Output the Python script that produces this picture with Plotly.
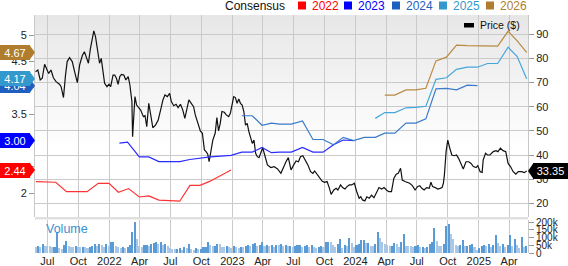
import plotly.graph_objects as go
import pandas as pd

# ---------------- data ----------------
price_dates = [
 "2021-05-27","2021-06-03","2021-06-10","2021-06-16","2021-06-23","2021-06-30","2021-07-05","2021-07-12",
 "2021-07-19","2021-07-27","2021-08-06","2021-08-11","2021-08-18","2021-08-24","2021-08-29","2021-09-05",
 "2021-09-13","2021-09-20","2021-09-28","2021-10-05","2021-10-13","2021-10-19","2021-10-24","2021-10-31",
 "2021-11-06","2021-11-11","2021-11-16","2021-11-21","2021-11-28","2021-12-03","2021-12-08","2021-12-13",
 "2021-12-18","2021-12-25","2021-12-31","2022-01-05","2022-01-12","2022-01-17","2022-01-22","2022-01-27",
 "2022-02-01","2022-02-06","2022-02-13","2022-02-19","2022-02-26","2022-03-03","2022-03-09","2022-03-11",
 "2022-03-18","2022-03-23","2022-03-28","2022-04-04","2022-04-12","2022-04-17","2022-04-22","2022-04-28",
 "2022-05-03","2022-05-10","2022-05-18","2022-05-26","2022-06-02","2022-06-09","2022-06-15","2022-06-22",
 "2022-06-29","2022-07-04","2022-07-11","2022-07-18","2022-07-24","2022-07-31","2022-08-07","2022-08-13",
 "2022-08-20","2022-08-25","2022-09-01","2022-09-08","2022-09-13","2022-09-21","2022-09-28","2022-10-04",
 "2022-10-10","2022-10-15","2022-10-20","2022-10-24","2022-10-29","2022-11-04","2022-11-11","2022-11-16",
 "2022-11-21","2022-11-26","2022-12-01","2022-12-08","2022-12-14","2022-12-21","2022-12-26","2022-12-31",
 "2023-01-05","2023-01-10","2023-01-15","2023-01-20","2023-01-25","2023-01-30","2023-02-04","2023-02-09",
 "2023-02-14","2023-02-19","2023-02-24","2023-03-01","2023-03-06","2023-03-11","2023-03-16","2023-03-21",
 "2023-03-26","2023-04-01","2023-04-15","2023-04-25","2023-05-05","2023-05-15","2023-05-25","2023-06-02",
 "2023-06-09","2023-06-16","2023-06-24","2023-07-02","2023-07-09","2023-07-16","2023-07-22","2023-07-29",
 "2023-08-05","2023-08-13","2023-08-21","2023-08-28","2023-09-02","2023-09-10","2023-09-17","2023-09-24",
 "2023-10-01","2023-10-09","2023-10-16","2023-10-21","2023-10-29","2023-11-05","2023-11-10","2023-11-18",
 "2023-11-24","2023-12-01","2023-12-07","2023-12-14","2023-12-21","2023-12-29","2024-01-05","2024-01-12",
 "2024-01-17","2024-01-22","2024-01-29","2024-02-04","2024-02-11","2024-02-18","2024-02-25","2024-03-03",
 "2024-03-11","2024-03-19","2024-03-26","2024-04-02","2024-04-09","2024-04-17","2024-04-24","2024-05-01",
 "2024-05-07","2024-05-14","2024-05-19","2024-05-27","2024-06-03","2024-06-10","2024-06-18","2024-06-26",
 "2024-07-03","2024-07-10","2024-07-16","2024-07-23","2024-07-30","2024-08-07","2024-08-12","2024-08-17",
 "2024-08-25","2024-09-01","2024-09-08","2024-09-14","2024-09-18","2024-09-21","2024-09-26","2024-10-01",
 "2024-10-07","2024-10-13","2024-10-20","2024-10-27","2024-11-02","2024-11-09","2024-11-16","2024-11-24",
 "2024-12-02","2024-12-09","2024-12-16","2024-12-24","2024-12-29","2025-01-05","2025-01-11","2025-01-14",
 "2025-01-21","2025-01-27","2025-02-03","2025-02-13","2025-02-21","2025-02-27","2025-03-06","2025-03-14",
 "2025-03-22","2025-03-29","2025-04-05","2025-04-13","2025-04-21","2025-04-28","2025-05-08","2025-05-16",
 "2025-05-23"]
price_vals = [
 74.5,75.2,71.1,71.8,77.6,75.6,73.8,75.2,
 72.0,70.4,69.3,68.3,63.8,73.1,78.7,80.3,
 78.7,74.5,70.0,77.3,81.2,82.8,80.7,78.0,
 84.2,88.3,91.4,89.0,82.8,78.0,80.0,74.5,
 69.7,68.3,69.3,68.3,73.1,73.1,71.8,69.3,
 72.5,73.4,73.1,71.1,72.5,69.0,62.1,47.6,
 64.2,60.7,59.6,58.6,55.9,56.3,51.7,61.4,
 57.3,51.3,52.4,54.5,58.6,62.8,64.9,64.2,
 65.5,62.1,60.4,61.0,59.6,61.0,58.6,55.2,
 59.6,62.8,61.4,60.0,56.6,53.1,50.0,49.0,
 42.1,41.4,40.3,37.2,42.1,46.2,49.0,55.5,
 50.0,53.1,58.0,57.7,56.6,55.9,57.3,61.4,
 64.2,63.8,61.4,63.2,61.4,60.7,58.0,52.4,
 53.1,49.7,46.9,44.8,46.2,40.7,39.3,38.9,
 40.7,43.0,35.9,34.8,35.2,34.2,32.4,35.2,
 37.2,38.9,33.8,35.9,37.5,37.2,39.3,39.7,
 37.9,35.9,33.1,32.4,33.4,31.7,30.6,29.2,
 28.7,29.0,26.2,23.7,25.5,26.2,25.5,27.6,
 26.5,25.9,26.9,27.6,27.6,28.3,24.8,22.1,
 22.7,21.4,21.0,22.7,22.1,23.4,22.3,24.1,
 26.5,25.9,26.5,25.5,24.8,24.8,30.3,32.0,
 32.4,34.5,29.6,29.0,28.7,28.3,27.3,25.5,
 26.9,27.3,26.2,25.5,26.5,26.2,28.7,26.9,
 26.5,25.9,26.2,26.5,28.3,31.7,41.4,46.2,
 42.8,40.0,39.7,40.0,38.6,36.1,34.2,37.2,
 37.2,36.5,35.2,34.8,35.6,33.1,32.8,37.9,
 40.7,40.0,40.0,41.4,41.8,41.4,42.8,41.8,
 41.4,36.5,35.2,33.1,32.1,33.1,33.1,32.7,
 33.35]

eps22_dates = ["2021-05-28","2021-07-26","2021-08-27","2021-10-27","2021-11-29","2021-12-31","2022-01-28",
               "2022-02-27","2022-03-31","2022-04-28","2022-05-28","2022-07-29","2022-08-28","2022-09-27",
               "2022-10-27","2022-12-28"]
eps22_vals = [2.22,2.21,2.03,2.03,2.19,2.19,2.02,2.09,1.93,1.95,1.87,1.85,2.15,2.15,2.23,2.44]

eps23_dates = ["2022-01-31","2022-02-24","2022-03-31","2022-04-28","2022-05-28","2022-07-29","2022-08-28",
               "2022-10-27","2022-12-28","2023-01-29","2023-03-01","2023-03-30","2023-04-27","2023-05-21",
               "2023-06-25","2023-07-28","2023-08-28","2023-09-27","2023-10-28","2023-11-26","2023-12-27"]
eps23_vals = [2.95,2.97,2.69,2.69,2.60,2.60,2.64,2.69,2.72,2.78,2.78,2.87,2.77,2.78,2.78,2.87,2.78,2.78,
              2.92,3.01,3.00]

eps24_dates = ["2023-01-29","2023-03-01","2023-03-30","2023-04-27","2023-05-21","2023-06-25","2023-07-28",
               "2023-08-28","2023-09-27","2023-10-28","2023-11-26","2023-12-27","2024-01-27","2024-02-29",
               "2024-03-28","2024-04-27","2024-05-30","2024-06-28","2024-07-28","2024-08-27","2024-09-27",
               "2024-10-27","2024-11-28","2024-12-28"]
eps24_vals = [3.47,3.47,3.29,3.33,3.31,3.31,3.37,3.02,3.02,2.92,3.06,3.00,3.06,3.06,3.14,3.14,3.33,3.33,
              3.41,3.98,3.99,3.96,4.05,4.04]

eps25_dates = ["2024-02-29","2024-03-28","2024-04-27","2024-05-30","2024-06-28","2024-07-28","2024-08-27",
               "2024-09-27","2024-10-27","2024-11-28","2024-12-28","2025-01-27","2025-02-26","2025-03-29",
               "2025-04-25","2025-05-23"]
eps25_vals = [3.42,3.53,3.53,3.62,3.63,3.65,4.16,4.19,4.35,4.39,4.39,4.46,4.46,4.77,4.59,4.17]

eps26_dates = ["2024-03-28","2024-04-27","2024-05-30","2024-06-28","2024-07-28","2024-08-27","2024-09-27",
               "2024-10-27","2024-11-28","2024-12-28","2025-01-27","2025-02-26","2025-03-29","2025-04-25",
               "2025-05-23"]
eps26_vals = [3.86,3.86,3.96,3.96,3.99,4.51,4.58,4.81,4.80,4.80,4.79,4.79,5.07,4.89,4.67]

vol_start = "2021-05-28"
volume_k = [
 45,48,42,62,50,48,46,44,45,137,
 35,28,55,84,48,45,42,48,44,40,
 45,42,35,40,52,60,48,62,55,42,
 60,50,72,75,52,45,38,40,38,45,
 55,138,206,97,50,42,55,58,52,62,
 70,78,65,72,55,60,50,35,32,28,
 30,35,25,40,38,62,30,22,35,28,
 30,42,45,77,55,48,52,62,60,45,
 40,48,42,38,52,40,35,45,42,50,
 55,48,62,68,52,55,72,48,58,52,
 55,40,58,55,60,52,55,48,52,40,
 50,55,55,45,48,58,45,55,40,35,
 42,50,45,72,75,72,55,40,60,92,
 35,55,50,100,70,45,58,62,85,85,
 68,70,50,48,60,142,104,75,62,55,
 50,52,68,60,40,72,129,52,50,48,
 42,48,58,40,42,38,40,62,72,164,
 82,52,48,62,178,193,129,95,58,52,
 55,90,52,52,55,62,40,22,35,48,
 58,52,60,45,55,120,70,50,62,45,
 55,118,48,97,55,35,108,45,50]

x_tick_vals = ["2021-07-01","2021-10-01","2022-01-01","2022-04-01","2022-07-01","2022-10-01",
               "2023-01-01","2023-04-01","2023-07-01","2023-10-01","2024-01-01","2024-04-01",
               "2024-07-01","2024-10-01","2025-01-01","2025-04-01"]
x_tick_text = ["Jul","Oct","2022","Apr","Jul","Oct","2023","Apr","Jul","Oct","2024","Apr",
               "Jul","Oct","2025","Apr"]
price_ticks = [20, 30, 40, 50, 60, 70, 80, 90]
eps_ticks = [2, 2.5, 3, 3.5, 4, 4.5, 5]
# 2.5, 3 and 4 are fully covered by the consensus badges in the reference
eps_tick_text = ["2", "", "", "3.5", "", "4.5", "5"]
vol_ticks = [0, 50000, 100000, 150000, 200000]
vol_tick_text = ["0", "50k", "100k", "150k", "200k"]

series_names = ["2022", "2023", "2024", "2025", "2026"]

# ---------------- layout geometry ----------------
W, H = 568, 266
ML, MR, MT, MB = 35, 40, 15, 13
PW = W - ML - MR
PH = H - MT - MB
FONT = "Liberation Sans, Arial, sans-serif"


def fx(px):
    return (px - ML) / PW


def fy(py):
    return (H - MB - py) / PH


price_dom = [fy(217), 1]
vol_dom = [0, fy(219.5)]
P_RANGE = [14.32, 97.99]
E_RANGE = [1.551, 5.379]

badge_col = {"2022": "#ff0000", "2023": "#0000ff", "2024": "#1f5fbf", "2025": "#3399cc", "2026": "#b07d2e"}
line_col = {"2022": "#ff3333", "2023": "#2b2bff", "2024": "#3a7bcc", "2025": "#45a6dc", "2026": "#b98a42"}
eps_data = {
    "2022": (eps22_dates, eps22_vals),
    "2023": (eps23_dates, eps23_vals),
    "2024": (eps24_dates, eps24_vals),
    "2025": (eps25_dates, eps25_vals),
    "2026": (eps26_dates, eps26_vals),
}

fig = go.Figure()

# volume bars
vol_dates = pd.date_range(vol_start, periods=len(volume_k), freq="7D")
vol_vals = [v * 1000 for v in volume_k]
vol_colors = ["#5b9bd5" if (i > 0 and volume_k[i] >= volume_k[i - 1]) else "#a9c8e8"
              for i in range(len(volume_k))]
fig.add_trace(go.Bar(x=vol_dates, y=vol_vals, xaxis="x", yaxis="y3",
                     marker=dict(color=vol_colors, line=dict(width=0)),
                     width=4.6 * 86400000, showlegend=False, hoverinfo="skip"))

# consensus lines
for name in series_names:
    d, v = eps_data[name]
    fig.add_trace(go.Scatter(x=d, y=v, xaxis="x", yaxis="y2", mode="lines",
                             line=dict(color=line_col[name], width=1.2),
                             showlegend=False, hoverinfo="skip"))

# price line
fig.add_trace(go.Scatter(x=price_dates, y=price_vals, xaxis="x", yaxis="y", mode="lines",
                         line=dict(color="#111111", width=1.2), showlegend=False, hoverinfo="skip"))

shapes = []
# background gradient in price panel
n_strips = 26
top_py, bot_py = 15, 145
for k in range(n_strips):
    y0 = top_py + (bot_py - top_py) * k / n_strips
    y1 = top_py + (bot_py - top_py) * (k + 1) / n_strips
    c = int(231 + (255 - 231) * (k + 0.5) / n_strips)
    shapes.append(dict(type="rect", xref="paper", yref="paper", x0=0, x1=1,
                       y0=fy(y1), y1=fy(y0), fillcolor=f"rgb({c},{c},{c})",
                       line=dict(width=0), layer="below"))
# separator band between panels
shapes.append(dict(type="rect", xref="paper", yref="paper", x0=0, x1=1,
                   y0=fy(219.5), y1=fy(217), fillcolor="#e0e0e0", line=dict(width=0), layer="below"))

annotations = []
panel_px = PH * (price_dom[1] - price_dom[0])
# left badges (EPS)
h_eps = 7.5 / panel_px * (E_RANGE[1] - E_RANGE[0])
for name in series_names:
    d, v = eps_data[name]
    val = v[-1]
    shapes.append(dict(type="path", xref="paper", yref="y2",
                       path=f"M {fx(29.5)},{val - h_eps} L {fx(35)},{val} L {fx(29.5)},{val + h_eps} Z",
                       fillcolor=badge_col[name], line=dict(width=0)))
    annotations.append(dict(xref="paper", yref="y2", x=fx(0), y=val, xanchor="left", yanchor="middle",
                            text=f"{val:.2f}", showarrow=False, width=30, height=15, borderpad=0,
                            borderwidth=0, bgcolor=badge_col[name],
                            font=dict(family=FONT, size=11, color="white")))

# right badge (price)
last_p = price_vals[-1]
h_p = 8 / panel_px * (P_RANGE[1] - P_RANGE[0])
shapes.append(dict(type="path", xref="paper", yref="y",
                   path=f"M {fx(533.5)},{last_p - h_p} L {fx(528)},{last_p} L {fx(533.5)},{last_p + h_p} Z",
                   fillcolor="#000000", line=dict(width=0)))
annotations.append(dict(xref="paper", yref="y", x=fx(533), y=last_p, xanchor="left", yanchor="middle",
                        text=f"{last_p:.2f}", showarrow=False, width=35, height=16, borderpad=0,
                        borderwidth=0, bgcolor="#000000",
                        font=dict(family=FONT, size=11, color="white")))

# top legend
annotations.append(dict(xref="paper", yref="paper", x=fx(287), y=fy(6), xanchor="right", yanchor="middle",
                        text="Consensus", showarrow=False, font=dict(family=FONT, size=12, color="#111")))
leg_sq = [298, 344, 392, 439, 486]
for name, sx in zip(series_names, leg_sq):
    shapes.append(dict(type="rect", xref="paper", yref="paper", x0=fx(sx), x1=fx(sx + 8),
                       y0=fy(9.5), y1=fy(1.5), fillcolor=badge_col[name], line=dict(width=0)))
    annotations.append(dict(xref="paper", yref="paper", x=fx(sx + 12), y=fy(6), xanchor="left",
                            yanchor="middle", text=name, showarrow=False,
                            font=dict(family=FONT, size=12, color=badge_col[name])))

# price legend
shapes.append(dict(type="rect", xref="paper", yref="paper", x0=fx(464), x1=fx(474),
                   y0=fy(27.5), y1=fy(23), fillcolor="#000000", line=dict(width=0)))
annotations.append(dict(xref="paper", yref="paper", x=fx(478), y=fy(25.5), xanchor="left", yanchor="middle",
                        text="Price ($)", showarrow=False, font=dict(family=FONT, size=10.5, color="#111")))

# volume label
annotations.append(dict(xref="paper", yref="paper", x=fx(44), y=fy(229), xanchor="left", yanchor="middle",
                        text="Volume", showarrow=False, font=dict(family=FONT, size=12.5, color="#3a8fd0")))

grid = "#cacaca"
fig.update_layout(
    width=W, height=H, margin=dict(l=ML, r=MR, t=MT, b=MB, pad=0, autoexpand=False),
    paper_bgcolor="white", plot_bgcolor="rgba(0,0,0,0)",
    font=dict(family=FONT, size=11, color="#222"),
    showlegend=False, bargap=0,
    shapes=shapes, annotations=annotations,
    xaxis=dict(type="date", range=["2021-05-25 12:00", "2025-05-27"], domain=[0, 1], anchor="y3",
               tickvals=x_tick_vals, ticktext=x_tick_text, showgrid=True, gridcolor=grid, gridwidth=1,
               ticks="", ticklen=0, tickfont=dict(size=11, color="#222"), showline=False, zeroline=False,
               automargin=False, fixedrange=True),
    yaxis=dict(domain=price_dom, side="right", anchor="x", range=P_RANGE, tickvals=price_ticks,
               showgrid=True, gridcolor=grid, gridwidth=1, ticks="outside", ticklen=5, tickcolor="#999",
               showline=True, linecolor="#c8c8c8", zeroline=False, automargin=False,
               tickfont=dict(size=11, color="#222")),
    yaxis2=dict(overlaying="y", side="left", anchor="x", range=E_RANGE, tickvals=eps_ticks,
                ticktext=eps_tick_text, showgrid=False, ticks="outside", ticklen=5, tickcolor="#999",
                showline=True, linecolor="#c8c8c8", zeroline=False, automargin=False,
                tickfont=dict(size=11, color="#222")),
    yaxis3=dict(domain=vol_dom, side="right", anchor="x", range=[0, 218000], tickvals=vol_ticks,
                ticktext=vol_tick_text, showgrid=False, ticks="outside", ticklen=5, tickcolor="#999",
                showline=True, linecolor="#c8c8c8", zeroline=False, automargin=False,
                tickfont=dict(size=10, color="#222")),
)

fig.write_html("out.html")
